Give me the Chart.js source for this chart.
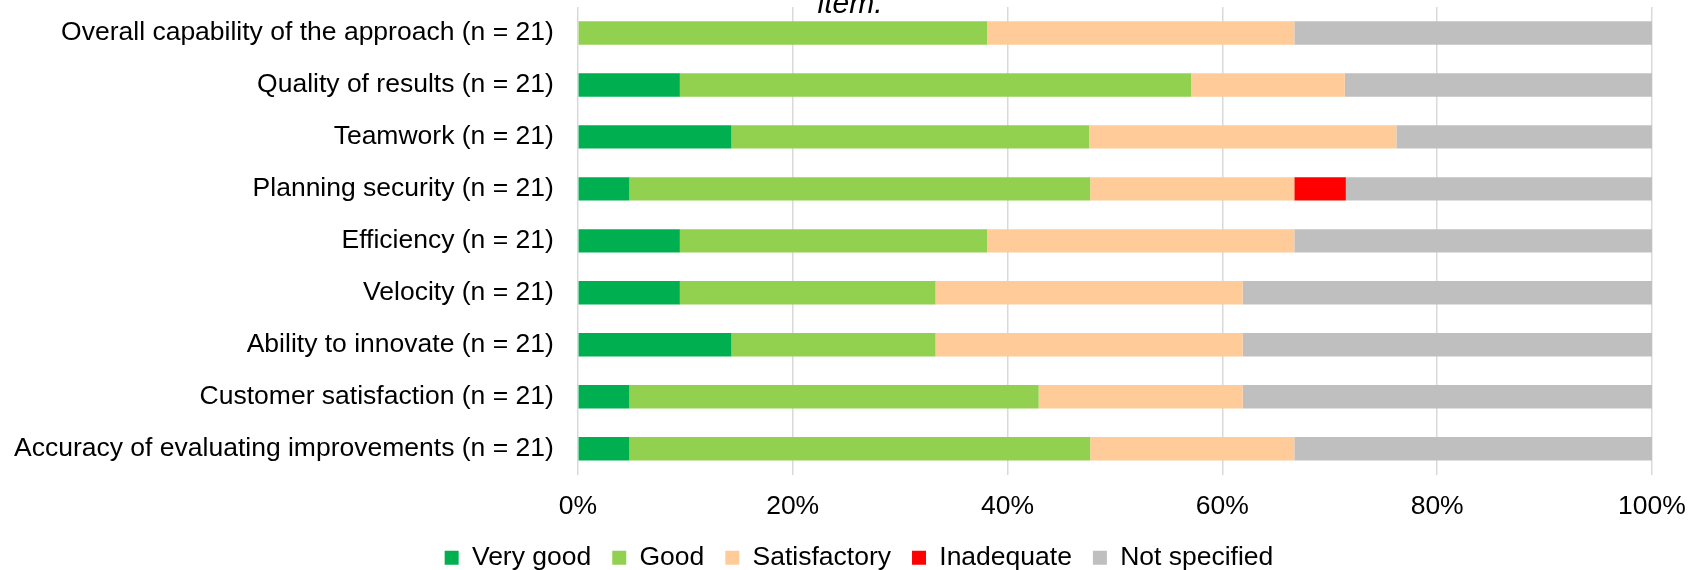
<!DOCTYPE html>
<html>
<head>
<meta charset="utf-8">
<script src="https://cdn.jsdelivr.net/npm/chart.js@4"></script>
<style>
  body { margin: 0; background: #fff; }
</style>
</head>
<body>
<canvas id="surveyChart" width="1700" height="570"></canvas>
<script>
const ctx = document.getElementById('surveyChart').getContext('2d');

// categories, top to bottom
const items = [
  'Overall capability of the approach (n = 21)',
  'Quality of results (n = 21)',
  'Teamwork (n = 21)',
  'Planning security (n = 21)',
  'Efficiency (n = 21)',
  'Velocity (n = 21)',
  'Ability to innovate (n = 21)',
  'Customer satisfaction (n = 21)',
  'Accuracy of evaluating improvements (n = 21)'
];

// share of answers in percent
const veryGood     = [0, 9.5, 14.3, 4.8, 9.5, 9.5, 14.3, 4.8, 4.8];
const good         = [38.1, 47.6, 33.3, 42.9, 28.6, 23.8, 19.0, 38.1, 42.9];
const satisfactory = [28.6, 14.3, 28.6, 19.0, 28.6, 28.6, 28.6, 19.0, 19.0];
const inadequate   = [0, 0, 0, 4.8, 0, 0, 0, 0, 0];
const notSpecified = [33.3, 28.6, 23.8, 28.6, 33.3, 38.1, 38.1, 38.1, 33.3];

const xTicks = [0, 20, 40, 60, 80, 100];

const font = 'Liberation Sans, Arial, sans-serif';
const fontSize = 26.5;

// leftover of the title line above the chart, cut off at the top edge
const titleTail = {
  id: 'titleTail',
  afterDraw(chart) {
    const c = chart.ctx;
    c.save();
    c.font = 'italic 30px ' + font;
    c.fillStyle = '#000';
    c.textAlign = 'center';
    c.textBaseline = 'alphabetic';
    c.fillText('item.', chart.width / 2, 13);
    c.restore();
  }
};

const bar = (label, data, color) => ({
  label: label,
  data: data,
  backgroundColor: color,
  borderWidth: 0,
  categoryPercentage: 1,
  barPercentage: 0.45
});

const chart = new Chart(ctx, {
  type: 'bar',
  data: {
    labels: items,
    datasets: [
      bar('Very good', veryGood, '#00b050'),
      bar('Good', good, '#92d050'),
      bar('Satisfactory', satisfactory, '#ffcc99'),
      bar('Inadequate', inadequate, '#ff0000'),
      bar('Not specified', notSpecified, '#bfbfbf')
    ]
  },
  options: {
    indexAxis: 'y',
    responsive: false,
    animation: false,
    // negative padding: labels/legend reach the edges, legend sits a bit right of centre
    layout: { padding: { top: 7, right: -28, left: -10, bottom: -11 } },
    scales: {
      x: {
        stacked: true,
        min: 0,
        max: 100,
        afterBuildTicks: (axis) => { axis.ticks = xTicks.map(v => ({ value: v })); },
        afterFit: (axis) => {
          // padding once above the labels only, not below as well
          axis.height = 16 + fontSize * 1.2 + 1;
          // room for the "100%" label on the right
          axis.paddingRight = 48;
        },
        grid: { color: '#d9d9d9', lineWidth: 1.5, drawTicks: false },
        border: { display: false },
        ticks: {
          padding: 16,
          color: '#000',
          font: { family: font, size: fontSize },
          callback: (v) => v + '%'
        }
      },
      y: {
        stacked: true,
        // labels sit in the middle of each row, no extra room needed above/below
        afterFit: (axis) => { axis.paddingTop = 0; axis.paddingBottom = 0; },
        grid: { display: false, drawTicks: false },
        border: { display: false },
        ticks: {
          padding: 24,
          color: '#000',
          font: { family: font, size: fontSize }
        }
      }
    },
    plugins: {
      legend: {
        position: 'bottom',
        labels: {
          boxWidth: 14,
          boxHeight: 14,
          padding: 21,
          color: '#000',
          font: { family: font, size: fontSize }
        }
      },
      tooltip: { enabled: false },
      title: { display: false }
    }
  },
  plugins: [titleTail]
});
</script>
</body>
</html>
